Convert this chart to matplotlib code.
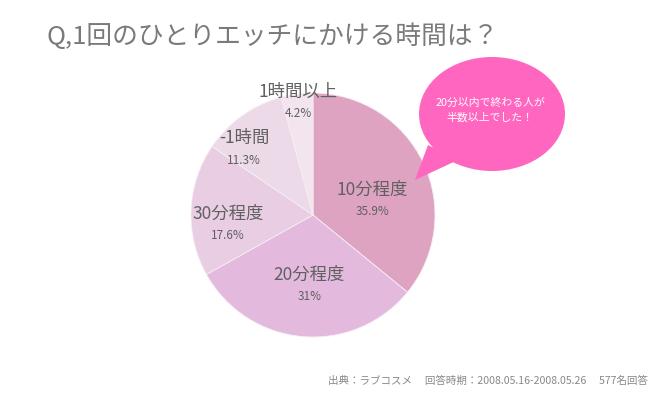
import numpy as np
from matplotlib import pyplot as plt
from matplotlib.patches import Ellipse, Polygon

plt.rcParams['font.family'] = ['Noto Sans CJK JP', 'DejaVu Sans']

# data
categories = ['10分程度', '20分程度', '30分程度', '-1時間', '1時間以上']
shares = [35.9, 31.0, 17.6, 11.3, 4.2]
pct_labels = ['35.9%', '31%', '17.6%', '11.3%', '4.2%']
colors = ['#dea3c1', '#e3badd', '#e8cde3', '#eddae8', '#f2e5ee']

title = 'Q,1回のひとりエッチにかける時間は？'
bubble_text = '20分以内で終わる人が\n半数以上でした！'
source = '出典：ラブコスメ　 回答時期：2008.05.16-2008.05.26　 577名回答'

# label placement (fraction of radius, angle tweak in degrees)
label_r = [0.50, 0.58, 0.70, 0.78, 0.93]
label_shift = [-12, 2, 9, 11, 0]

W, H = 657, 400
fig = plt.figure(figsize=(W / 100, H / 100), dpi=100)
ax = fig.add_axes([0, 0, 1, 1])
ax.set_xlim(0, W)
ax.set_ylim(0, H)
ax.set_aspect('equal')
ax.axis('off')

cx, cy, R = 313, H - 215, 122
wedges, _ = ax.pie(shares, colors=colors, startangle=90, counterclock=False,
                   center=(cx, cy), radius=R,
                   wedgeprops=dict(linewidth=0.6, edgecolor='#f7eef4'))
ax.set_xlim(0, W)
ax.set_ylim(0, H)

for w, name, pct, lr, sh in zip(wedges, categories, pct_labels, label_r, label_shift):
    mid = np.deg2rad((w.theta1 + w.theta2) / 2 + sh)
    x = cx + lr * R * np.cos(mid)
    y = cy + lr * R * np.sin(mid)
    ax.text(x, y + 11, name, ha='center', va='center', fontsize=12.5, color='#606060')
    ax.text(x, y - 11, pct, ha='center', va='center', fontsize=8.5, color='#606060')

# speech bubble
bx, by = 492, H - 114
ax.add_patch(Polygon([(428, H - 145), (415, H - 180), (458, H - 160)],
                     closed=True, facecolor='#ff66c0', edgecolor='none'))
ax.add_patch(Ellipse((bx, by), 146, 114, facecolor='#ff66c0', edgecolor='none'))
ax.text(bx - 2, by + 4, bubble_text, ha='center', va='center', fontsize=7.8,
        color='white', linespacing=1.6)

ax.text(47, H - 37, title, ha='left', va='center', fontsize=18.5, color='#7a7a7a')
ax.text(648, H - 381, source, ha='right', va='center', fontsize=7.6, color='#888888')

plt.savefig('out.png', dpi=100)
